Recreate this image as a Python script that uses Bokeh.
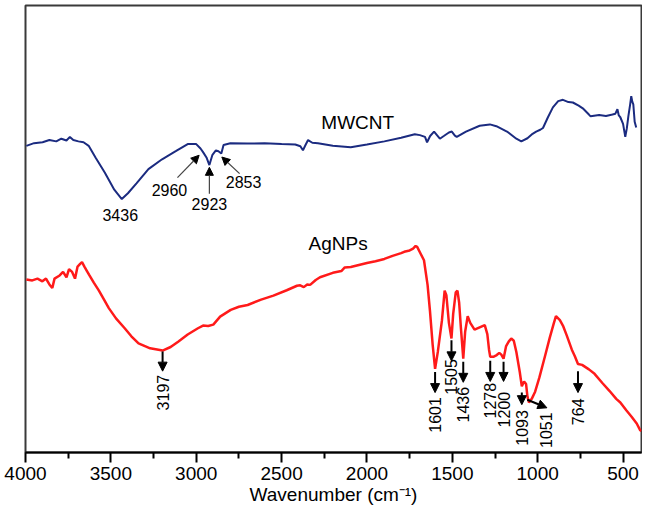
import math
from bokeh.plotting import figure
from bokeh.models import Range1d, FixedTicker, Arrow, NormalHead
from bokeh.core.properties import value
from bokeh.embed import file_html
from bokeh.resources import INLINE

# ---------------- data (wavenumber, relative transmittance) ----------------
mwcnt_wn = [3995, 3950, 3900, 3860, 3820, 3790, 3760, 3740, 3720, 3690, 3660, 3630,
            3590, 3535, 3480, 3436, 3400, 3350, 3280, 3200, 3120, 3050, 3000, 2975,
            2960, 2940, 2923, 2905, 2885, 2870, 2853, 2840, 2800, 2700, 2600, 2500,
            2420, 2390, 2375, 2360, 2345, 2320, 2287, 2200, 2095, 2000, 1898, 1800,
            1720, 1690, 1660, 1648, 1630, 1607, 1590, 1573, 1550, 1520, 1503, 1485,
            1474, 1420, 1340, 1280, 1242, 1180, 1125, 1096, 1060, 1030, 1009, 985,
            969, 940, 911, 880, 852, 820, 794, 760, 736, 700, 690, 640, 600, 562,
            545, 533, 525, 516, 500, 487, 478, 469, 458, 452, 446, 440, 432, 423]
mwcnt_t = [68.6, 69.2, 69.4, 69.9, 69.6, 70.2, 69.8, 70.6, 69.9, 69.6, 69.4, 68.6,
           66.0, 62.6, 58.8, 56.7, 58.0, 60.2, 63.4, 65.6, 67.4, 69.0, 69.0, 68.0,
           67.2, 66.0, 64.3, 66.6, 67.6, 67.4, 66.9, 68.8, 69.2, 69.1, 69.2, 69.0,
           68.9, 68.5, 67.6, 68.8, 69.9, 69.3, 69.2, 68.6, 68.3, 68.9, 69.6, 70.4,
           71.2, 71.0, 70.6, 69.4, 70.8, 71.8, 71.0, 70.2, 70.8, 71.6, 71.8, 70.9,
           70.6, 71.8, 73.1, 73.4, 73.0, 71.8, 70.2, 69.6, 70.3, 71.3, 71.8, 72.2,
           72.6, 75.0, 77.2, 78.6, 78.9, 78.4, 78.3, 77.6, 77.0, 75.6, 75.2, 75.5,
           75.3, 75.6, 75.8, 76.8, 75.4, 75.0, 73.5, 70.6, 72.5, 75.2, 78.0, 79.7,
           78.5, 77.9, 74.0, 72.7]

agnps_wn = [3995, 3960, 3930, 3901, 3880, 3860, 3843, 3830, 3800, 3780, 3760, 3745,
            3727, 3710, 3695, 3680, 3669, 3655, 3640, 3628, 3600, 3570, 3540, 3512,
            3470, 3419, 3380, 3338, 3270, 3197, 3150, 3106, 3050, 2990, 2960, 2930,
            2900, 2860, 2798, 2750, 2699, 2620, 2548, 2470, 2410, 2391, 2370, 2350,
            2333, 2300, 2275, 2200, 2150, 2130, 2095, 2000, 1950, 1898, 1850, 1800,
            1782, 1750, 1730, 1715, 1706, 1690, 1666, 1645, 1631, 1615, 1601, 1585,
            1561, 1545, 1535, 1520, 1505, 1495, 1480, 1470, 1460, 1450, 1436, 1425,
            1410, 1395, 1370, 1340, 1310, 1295, 1285, 1278, 1260, 1240, 1225, 1213,
            1200, 1185, 1170, 1155, 1140, 1125, 1105, 1093, 1080, 1068, 1060, 1051,
            1035, 1015, 990, 957, 930, 905, 893, 870, 850, 830, 800, 783, 764, 740,
            700, 667, 620, 580, 540, 516, 480, 450, 420, 400, 392]
agnps_t = [38.7, 38.5, 38.9, 38.3, 38.9, 37.6, 36.8, 38.9, 39.6, 40.4, 39.2, 41.0,
           40.4, 38.9, 41.6, 42.2, 42.6, 41.6, 40.6, 39.8, 38.0, 36.2, 34.2, 32.3,
           30.0, 27.8, 26.0, 24.4, 23.3, 22.8, 23.6, 24.8, 26.4, 27.8, 28.4, 28.3,
           28.6, 30.4, 31.9, 32.6, 33.0, 34.2, 35.1, 36.3, 37.3, 37.4, 37.0, 37.6,
           37.5, 38.6, 39.2, 40.2, 40.6, 41.4, 41.5, 42.4, 42.8, 43.3, 44.0, 44.6,
           44.9, 45.2, 45.6, 46.2, 46.0, 44.8, 43.0, 37.5, 31.7, 24.0, 18.7, 22.5,
           29.5, 36.2, 35.2, 29.0, 25.5, 31.0, 35.8, 36.2, 33.5, 28.0, 21.0, 27.0,
           30.5, 29.0, 27.5, 28.0, 28.5, 26.5, 23.0, 21.4, 21.4, 21.8, 22.3, 21.9,
           21.0, 23.8, 24.8, 25.5, 25.0, 22.5, 18.0, 14.8, 15.9, 15.3, 12.5, 11.2,
           12.0, 13.6, 16.8, 21.6, 25.6, 29.0, 30.5, 29.6, 28.2, 26.2, 23.0, 21.6,
           19.8, 19.6, 18.6, 17.6, 15.5, 13.8, 12.0, 11.2, 9.4, 8.0, 6.5, 5.0, 4.8]

x_major_ticks = [4000, 3500, 3000, 2500, 2000, 1500, 1000, 500]
x_minor_ticks = [3750, 3250, 2750, 2250, 1750, 1250, 750]

# series names and their label positions
series_names = ["MWCNT", "AgNPs"]
series_label_x = [2054, 2169]
series_label_y = [73.8, 46.8]

# MWCNT peak labels (horizontal)
mw_peak_text = ["3436", "2960", "2923", "2853"]
mw_peak_lx = [3445, 3157, 2923, 2723]
mw_peak_ly = [53.1, 58.8, 55.6, 60.6]
# MWCNT arrows (start -> end)
mw_arrow_x0 = [3110, 2923, 2746]
mw_arrow_y0 = [61.5, 57.9, 62.4]
mw_arrow_x1 = [2983, 2923, 2850]
mw_arrow_y1 = [66.5, 63.8, 66.1]

# AgNPs peak labels (rotated)
ag_peak_text = ["3197", "1601", "1505", "1436", "1278", "1200", "1093", "1051", "764"]
ag_peak_lx = [3197, 1601, 1505, 1436, 1278, 1200, 1093, 950, 764]
ag_peak_ly = [13.4, 8.4, 16.9, 10.7, 11.6, 9.6, 5.5, 5.0, 9.1]
ag_arrow_x0 = [3197, 1601, 1505, 1436, 1278, 1200, 1093, 1061, 764]
ag_arrow_y0 = [22.6, 18.0, 25.1, 20.3, 20.5, 20.3, 13.4, 11.8, 18.2]
ag_arrow_x1 = [3197, 1601, 1505, 1436, 1278, 1200, 1093, 946, 764]
ag_arrow_y1 = [18.2, 13.4, 20.5, 15.7, 15.9, 15.9, 10.7, 10.0, 13.4]

FONT = "Liberation Sans"
BLUE = "#1b2b80"
RED = "#ff1a1a"

p = figure(width=642, height=507, output_backend="svg", toolbar_location=None,
           x_range=Range1d(4000, 392), y_range=Range1d(0, 100),
           min_border_left=25, min_border_top=5, min_border_right=1,
           min_border_bottom=40)

p.line(mwcnt_wn, mwcnt_t, line_color=BLUE, line_width=2)
p.line(agnps_wn, agnps_t, line_color=RED, line_width=2.5)

p.xgrid.visible = False
p.ygrid.visible = False
p.yaxis.visible = False
p.outline_line_color = "#3a3a3a"
p.outline_line_width = 2

ax = p.xaxis[0]
ax.ticker = FixedTicker(ticks=x_major_ticks, minor_ticks=x_minor_ticks)
ax.axis_line_color = "black"
ax.axis_line_width = 2
ax.major_tick_in = 0
ax.major_tick_out = 10
ax.minor_tick_in = 0
ax.minor_tick_out = 6
ax.major_tick_line_width = 2
ax.minor_tick_line_width = 2
ax.major_label_text_font = FONT
ax.major_label_text_font_size = "19px"
ax.major_label_text_color = "black"
ax.major_label_standoff = 4
ax.axis_label = "Wavenumber (cm\u207b\u00b9)"
ax.axis_label_text_font = FONT
ax.axis_label_text_font_size = "19px"
ax.axis_label_text_font_style = "normal"
ax.axis_label_text_color = "black"
ax.axis_label_standoff = 1

# series labels
p.text(x=series_label_x, y=series_label_y, text=series_names,
       text_font=value(FONT), text_font_size="19px", text_color="black",
       text_align="center", text_baseline="middle")

# MWCNT peak labels
p.text(x=mw_peak_lx, y=mw_peak_ly, text=mw_peak_text,
       text_font=value(FONT), text_font_size="16px", text_color="black",
       text_align="center", text_baseline="middle")

for x0, y0, x1, y1 in zip(mw_arrow_x0, mw_arrow_y0, mw_arrow_x1, mw_arrow_y1):
    p.add_layout(Arrow(x_start=x0, y_start=y0, x_end=x1, y_end=y1,
                       line_color="#444444", line_width=1.2,
                       end=NormalHead(size=8, fill_color="black", line_color="black")))

# AgNPs peak labels (rotated)
p.text(x=ag_peak_lx, y=ag_peak_ly, text=ag_peak_text, angle=math.pi / 2,
       text_font=value(FONT), text_font_size="16px", text_color="black",
       text_align="center", text_baseline="middle")

for x0, y0, x1, y1 in zip(ag_arrow_x0, ag_arrow_y0, ag_arrow_x1, ag_arrow_y1):
    p.add_layout(Arrow(x_start=x0, y_start=y0, x_end=x1, y_end=y1,
                       line_color="black", line_width=2,
                       end=NormalHead(size=9, fill_color="black", line_color="black")))

open("out.html", "w").write(file_html(p, INLINE))
